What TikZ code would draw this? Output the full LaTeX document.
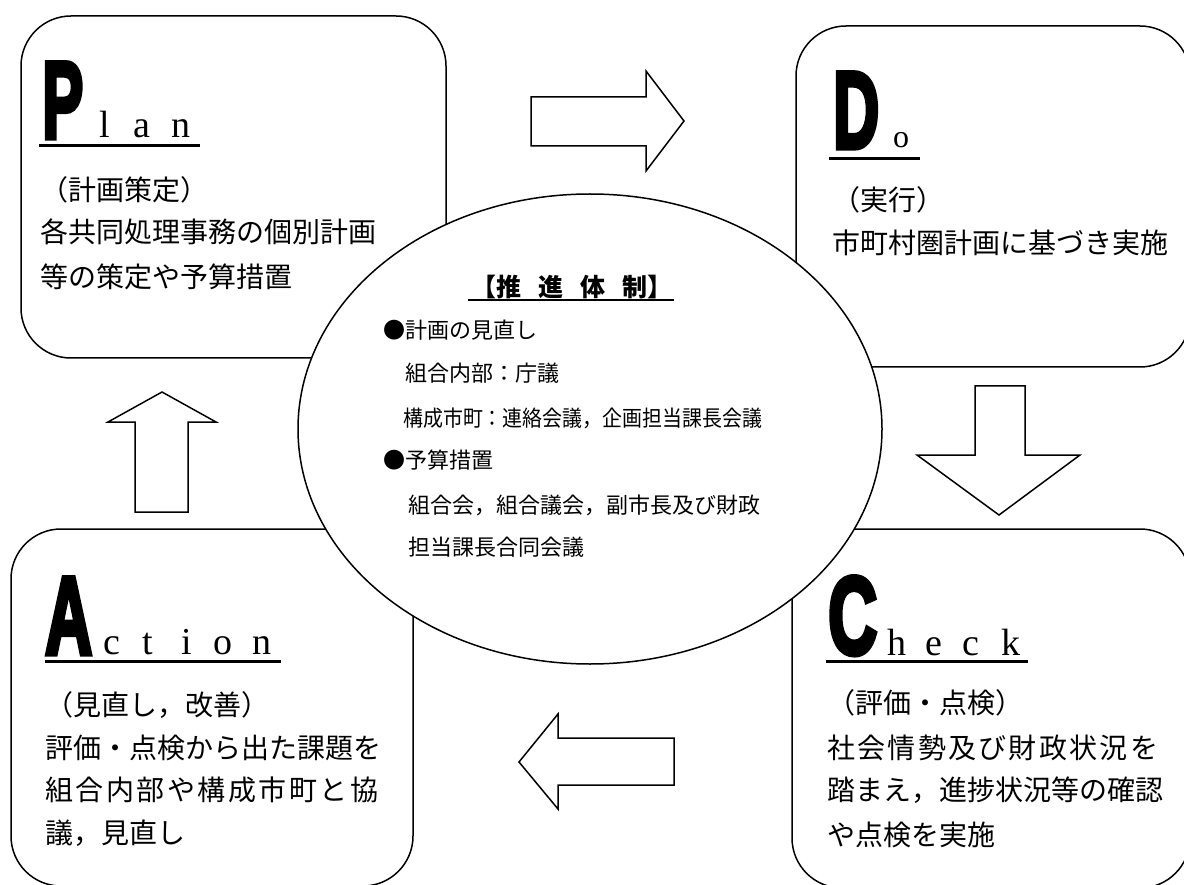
\documentclass[tikz,border=0pt]{standalone}
\usepackage{fontspec}
\usepackage{graphicx}
\usetikzlibrary{shapes.geometric}
\newfontfamily\cjk{Noto Sans CJK JP}
\newfontfamily\latf{Liberation Serif}
\newfontfamily\heavyf{Liberation Sans}[BoldFeatures={FakeBold=5}]
\tikzset{
  box/.style={draw, line width=1.5pt, rounded corners=50pt, fill=white, inner sep=0pt},
  blockarrow/.style={draw, line width=1.5pt, fill=white, line join=miter},
  jp/.style={inner sep=0pt, anchor=base west, font=\cjk\fontsize{28}{34}\selectfont},
  jps/.style={inner sep=0pt, anchor=base west, font=\cjk\fontsize{22}{26}\selectfont},
  big/.style={inner sep=0pt, anchor=south west, font=\heavyf\bfseries\fontsize{60}{60}\selectfont},
  lt/.style={inner sep=0pt, anchor=base, font=\latf\fontsize{38}{42}\selectfont},
  ul/.style={line width=3pt},
}
\begin{document}
\begin{tikzpicture}[x=1pt,y=-1pt]
\useasboundingbox (0,0) rectangle (1184,885);
\clip (0,0) rectangle (1184,885);
% boxes
\node[box, minimum width=425pt, minimum height=342pt] (plan) at (233.5,187) {};
\node[box, minimum width=394pt, minimum height=341pt] (do) at (993,196.5) {};
\node[box, minimum width=402pt, minimum height=357pt] (action) at (212,707.5) {};
\node[box, minimum width=398pt, minimum height=359pt] (check) at (991,708.5) {};
% central ellipse
\node[draw, ellipse, line width=1.5pt, fill=white, minimum width=584pt, minimum height=470pt, inner sep=0pt] (core) at (590,429) {};
% block arrows
\draw[blockarrow] (531,97) -- (646,97) -- (646,71) -- (684,121) -- (646,171) -- (646,146) -- (531,146) -- cycle;
\draw[blockarrow] (975,386) -- (975,455) -- (917,455) -- (999,515) -- (1080,455) -- (1025,455) -- (1025,386) -- cycle;
\draw[blockarrow] (674,738) -- (558,738) -- (558,714) -- (519,762) -- (558,809) -- (558,785) -- (674,785) -- cycle;
\draw[blockarrow] (135,512) -- (135,422) -- (108,422) -- (162,392) -- (216,422) -- (188,422) -- (188,512) -- cycle;
% Plan
\node[big] (bP) at (42,138) {\resizebox*{41pt}{75pt}{P}};
\node[lt] (pl1) at (105,138) {l};
\node[lt] (pl2) at (142,138) {a};
\node[lt] (pl3) at (181,138) {n};
\draw[ul] (39,146) -- (200,146);
\node[jp] (pt0) at (40,200.6) {（計画策定）};
\node[jp] (pt1) at (40,242.6) {各共同処理事務の個別計画};
\node[jp] (pt2) at (40,287.6) {等の策定や予算措置};
% Do
\node[big] (bD) at (833,148) {\resizebox*{46pt}{75pt}{D}};
\node[lt, font=\latf\fontsize{32}{36}\selectfont] (do1) at (901,148) {o};
\draw[ul] (829,159) -- (920,159);
\node[jp] (dt0) at (832,210.6) {（実行）};
\node[jp] (dt1) at (832,253.6) {市町村圏計画に基づき実施};
% Action
\node[big] (bA) at (45,654) {\resizebox*{47pt}{76pt}{A}};
\node[lt] (ac1) at (112,654) {c};
\node[lt] (ac2) at (148,654) {t};
\node[lt] (ac3) at (187,654) {i};
\node[lt] (ac4) at (223,654) {o};
\node[lt] (ac5) at (262,654) {n};
\draw[ul] (45,661) -- (281,661);
\node[jp] (at0) at (45,715.6) {（見直し，改善）};
\node[jp] (at1) at (45,758.6) {\makebox[333pt][s]{評\hfill 価\hfill ・\hfill 点\hfill 検\hfill か\hfill ら\hfill 出\hfill た\hfill 課\hfill 題\hfill を}};
\node[jp] (at2) at (45,800.6) {\makebox[333pt][s]{組\hfill 合\hfill 内\hfill 部\hfill や\hfill 構\hfill 成\hfill 市\hfill 町\hfill と\hfill 協}};
\node[jp] (at3) at (45,843.6) {議，見直し};
% Check
\node[big] (bC) at (828,655) {\resizebox*{49pt}{78pt}{C}};
\node[lt] (ch1) at (897,655) {h};
\node[lt] (ch2) at (934,655) {e};
\node[lt] (ch3) at (971,655) {c};
\node[lt] (ch4) at (1011,655) {k};
\draw[ul] (826,661) -- (1028,661);
\node[jp] (ct0) at (827,713.6) {（評価・点検）};
\node[jp] (ct1) at (827,758.6) {\makebox[331pt][s]{社\hfill 会\hfill 情\hfill 勢\hfill 及\hfill び\hfill 財\hfill 政\hfill 状\hfill 況\hfill を}};
\node[jp] (ct2) at (827,800.6) {\makebox[331pt][s]{踏\hfill ま\hfill え\hfill ，\hfill 進\hfill 捗\hfill 状\hfill 況\hfill 等\hfill の\hfill 確\hfill 認}};
\node[jp] (ct3) at (827,845.6) {や点検を実施};
% centre text
\node[inner sep=0pt, anchor=base, font=\cjk\bfseries\fontsize{25}{30}\selectfont] (title) at (572,296.5) {【推\hspace{17pt}進\hspace{17pt}体\hspace{17pt}制】};
\draw[line width=2pt] (468,300) -- (674,300);
\node[jps] (c1) at (383,338.4) {●計画の見直し};
\node[jps] (c2) at (405,381.4) {組合内部：庁議};
\node[jps] (c3) at (403,426.4) {\scalebox{0.906}[1]{構成市町：連絡会議，企画担当課長会議}};
\node[jps] (c4) at (383,468.4) {●予算措置};
\node[jps] (c5) at (408,513.4) {組合会，組合議会，副市長及び財政};
\node[jps] (c6) at (408,555.4) {担当課長合同会議};
\end{tikzpicture}
\end{document}
